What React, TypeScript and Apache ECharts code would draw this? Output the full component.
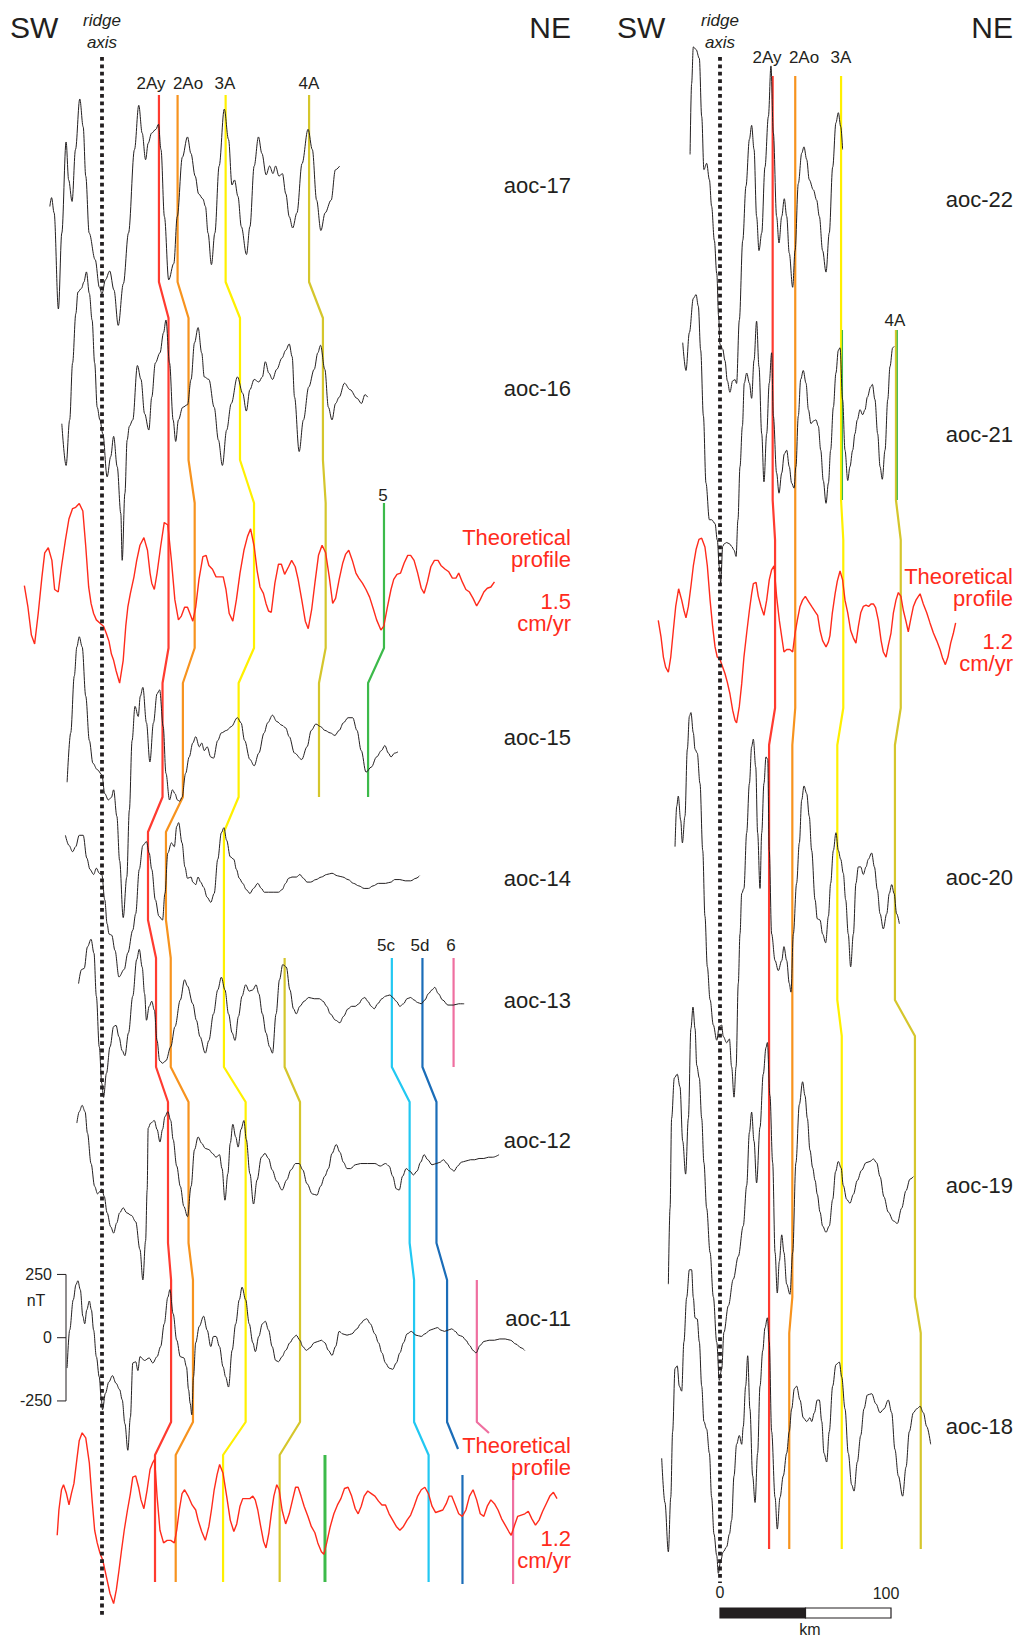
import React, { useEffect, useRef } from "react";
import * as echarts from "echarts";

// ---------- layout constants (pixels of the 1018 x 1638 page) ----------
const W = 1018;
const H = 1638;
const PX_PER_KM = 1.71;
const PX_PER_NT = 0.253;
const LEFT_RIDGE_PX = 102;
const RIGHT_RIDGE_PX = 720;
const SPLIT_PX = 600;
const LEFT_TEXT_RIGHT = 571;
const RIGHT_TEXT_RIGHT = 1013;
const INK = "#231f20";
const RED = "#ff2b1c";
const FONT = '"Liberation Sans", Arial, Helvetica, sans-serif';

// ---------- data: magnetic anomaly profiles [distance km, anomaly nT] ----------
const AOC_17 = [[-30.5,-85],[-29.5,-50],[-28,-110],[-25.5,-490],[-23.5,-190],[-21,170],[-19.5,20],[-17.5,-65],[-15.5,140],[-13,340],[-11,230],[-9.5,35],[-7.5,-190],[-4,-295],[-1.5,-405],[0,-430],[2,-375],[4.5,-340],[7,-415],[9.5,-555],[12.5,-390],[15.5,-190],[19,140],[21.5,315],[23.5,205],[25.5,100],[27,165],[29,205],[31.5,220],[33,240],[34.5,140],[36.5,-125],[39,-375],[42,-310],[44,-125],[47,110],[50,190],[52,125],[54.5,35],[56.5,-35],[59,-55],[60.5,-85],[62,-190],[64,-315],[66,-190],[68.5,75],[71.5,300],[74,180],[76,0],[77.5,20],[79.5,-45],[81.5,-165],[84.5,-275],[86.5,-165],[89,75],[91.5,190],[93.5,125],[96,40],[98,75],[100,45],[101.5,75],[103.5,35],[105.5,45],[107.5,-35],[109.5,-125],[111.5,-170],[114,-110],[117,85],[120.5,220],[123,140],[125.5,-60],[128,-180],[130.5,-110],[134,-60],[136.5,60],[139,75]];

const AOC_16 = [[-23.5,-140],[-21,-305],[-18.9,-125],[-17.2,100],[-15.3,295],[-14.1,380],[-12,395],[-10.6,420],[-9.1,460],[-7.4,375],[-5.8,270],[-4.3,100],[-2.8,-75],[-1.2,-125],[0.5,-180],[3,-350],[5.1,-270],[6.8,-190],[8.9,-310],[11,-495],[11.8,-680],[13.4,-415],[14.7,-205],[16,-150],[18,-125],[20.7,90],[22.8,35],[24.9,-100],[27.4,-165],[29.1,-35],[31.2,100],[33.9,140],[36,220],[37.4,270],[39.5,100],[41.6,-125],[43.1,-210],[44.7,-125],[47.2,-75],[50,-65],[52.1,35],[54.1,180],[56.2,240],[58.3,140],[59.8,45],[62.5,35],[65.6,-75],[68.1,-205],[70.4,-305],[72.9,-165],[75.6,-60],[79.2,45],[82.3,-20],[84.4,-90],[86.5,-5],[89,35],[91.7,25],[93.8,45],[95.5,105],[97.6,60],[99.7,35],[102.2,75],[105.3,120],[107.4,150],[109.5,175],[111.2,125],[112.6,-35],[115.3,-250],[117.8,-125],[120.9,5],[124.1,75],[126.2,140],[127.8,170],[130.3,75],[132.4,-75],[134.5,-125],[136.6,-60],[138.7,-35],[141.8,20],[145,-5],[149.2,-40],[151.7,-60],[153.8,-25],[155.4,-35]];

const THEO_15 = [[-45.4,30],[-43.3,-55],[-41.3,-165],[-39.4,-200],[-37.3,-80],[-35.2,60],[-33.5,160],[-31.4,180],[-29.3,130],[-27.7,15],[-25.6,5],[-23.7,105],[-21.4,210],[-19.3,295],[-17.2,335],[-15.4,340],[-13.3,355],[-11.2,325],[-9.5,185],[-7.8,25],[-6.4,-40],[-4.9,-80],[-3.3,-105],[-0.8,-120],[0.9,-130],[2.6,-160],[4.1,-190],[5.5,-240],[6.8,-265],[8.2,-305],[10.3,-355],[12.4,-265],[13.9,-130],[15.1,-55],[16.6,0],[18.7,65],[20.3,130],[22.2,190],[24.5,220],[26.6,170],[28.1,80],[29.1,40],[30.6,15],[32.2,80],[34.3,185],[36.4,280],[38.5,270],[40.6,130],[42.6,-25],[44.7,-105],[46.4,-90],[48.3,-55],[50,-55],[51.4,-80],[53.1,-110],[54.8,-55],[56.7,55],[59,145],[60.9,150],[62.5,110],[64.6,95],[66.7,65],[70.9,65],[72.5,15],[74.4,-80],[76.5,-110],[78.6,-25],[80.7,80],[83,170],[85.1,225],[86.9,255],[89,185],[90.7,90],[92.4,25],[94.4,0],[95.9,-40],[97.4,-70],[99,-75],[101.1,40],[103.2,115],[104.9,115],[106.8,75],[109.1,105],[110.9,130],[113,105],[114.7,55],[116.8,-25],[118.9,-110],[120.6,-140],[122.6,-65],[124.5,40],[126.6,150],[128.7,190],[130.8,160],[132.9,65],[134.9,-40],[136.6,-20],[138.7,55],[140.8,120],[142.5,155],[144.3,170],[146.4,130],[148.5,80],[150.2,60],[152.3,40],[154.4,15],[156.5,-15],[158.6,-60],[160.6,-105],[163.1,-145],[164.8,-130],[166.9,-55],[169,15],[170.6,55],[172.5,75],[174.6,80],[176.7,120],[178.8,150],[180.5,150],[182.5,130],[184.6,80],[186.7,20],[188.4,0],[190.3,45],[192.3,105],[194.4,130],[196.5,130],[198.2,110],[200.7,95],[202.8,85],[204.9,60],[207,60],[208.6,80],[210.7,45],[212.8,15],[214.9,5],[217,-20],[219.1,-50],[221.2,-25],[223.3,5],[225.3,20],[227.4,25],[229.5,45]];

const AOC_15 = [[-20.4,-180],[-18.3,15],[-16.2,240],[-14.7,355],[-13.3,395],[-11.6,355],[-9.5,160],[-7.4,-15],[-5.3,-105],[-2.8,-130],[-0.1,-150],[1.6,-225],[3.7,-250],[5.5,-240],[6.8,-210],[8.7,-315],[10.3,-490],[12.4,-715],[14.5,-555],[16,-290],[17.6,-15],[19.3,120],[21.2,80],[22.4,160],[23.9,195],[26,55],[28,-100],[30.1,55],[32.2,170],[33.7,185],[35.8,40],[37.4,-145],[39.5,-250],[41.2,-210],[42.7,-225],[44.1,-250],[45.4,-255],[46.8,-240],[48.9,-145],[51,-80],[53.1,-25],[54.8,0],[56.9,-40],[58.3,-25],[59.8,-55],[61.5,-40],[63.6,-80],[65.2,-85],[67.7,-15],[69.8,15],[72.9,25],[75.6,40],[79.2,75],[81.3,55],[83.4,-15],[86.5,-90],[89,-115],[91.7,-65],[94.8,15],[96.9,55],[99.7,85],[102.2,60],[105.3,45],[107.4,35],[109.5,0],[112.6,-65],[116.8,-90],[119.9,-40],[122.4,25],[125.1,50],[127.8,40],[130.3,25],[133.5,15],[136.2,5],[138.7,25],[141.2,55],[143.9,75],[146.6,75],[149.1,25],[151.6,-55],[154.4,-140],[157.5,-120],[160.6,-80],[163.4,-55],[165.4,-35],[167.5,-65],[169,-80],[171.1,-65],[173.1,-60]];

const AOC_14 = [[-21.4,170],[-19.3,130],[-17.2,105],[-15.4,125],[-13.3,170],[-11,170],[-8.9,80],[-7,35],[-4.9,15],[-3.3,40],[-1.6,20],[-0.1,15],[1.6,-85],[3,-180],[4.1,-220],[5.7,-225],[7.6,-285],[9.9,-390],[13,-360],[15.1,-295],[18,-205],[19.7,-140],[21.8,35],[23.9,130],[26,145],[27.6,100],[29.1,35],[31.2,-85],[33.3,-150],[35.4,-165],[36.8,-60],[38.5,100],[40.6,140],[42.3,125],[43.7,205],[44.8,220],[46.8,140],[48.5,45],[50,0],[52.1,5],[53.1,-15],[54.8,-25],[56.2,5],[57.7,-15],[59.4,-35],[61.5,-75],[63.6,-95],[65.6,-60],[67.7,75],[69.8,180],[71.3,200],[72.9,150],[75,85],[77.1,75],[78.6,35],[80.3,0],[82.3,-20],[84.4,-45],[86.5,-60],[88.6,-40],[91.1,-20],[93.2,-40],[94.9,-55],[97.4,-55],[100.1,-55],[103.2,-55],[105.3,-45],[107.4,-20],[109.1,0],[111.1,5],[113.7,5],[115.7,15],[117.8,0],[119.9,-15],[122,-15],[125.1,-5],[128.3,5],[131.4,15],[134.5,20],[137.7,10],[140.8,5],[143.9,-5],[147.1,-20],[150.2,-30],[153.3,-40],[155.8,-40],[158.5,-30],[161.7,-20],[165.8,-20],[169,-15],[171.1,-5],[174.2,-5],[177.3,-10],[180.5,-10],[183.6,0],[185.7,10]];

const AOC_13 = [[-13.7,65],[-12,120],[-10.4,125],[-8.5,210],[-6.4,240],[-4.7,185],[-3.3,15],[-1.6,-185],[-0.1,-330],[0.9,-385],[2.6,-290],[4.7,-185],[6.8,-105],[8.2,-100],[9.9,-145],[11.8,-200],[13.4,-220],[15.5,-130],[18,15],[20.3,160],[21.8,200],[23.5,130],[24.9,25],[26,-80],[27.6,-25],[29.1,-5],[30.6,-40],[32.2,-160],[33.7,-240],[35.4,-250],[37.4,-240],[40.2,-185],[42.7,-105],[45.8,0],[48.3,80],[50,55],[53.1,-15],[55.2,-80],[57.3,-145],[60.4,-210],[62.5,-160],[65.2,-55],[67.7,40],[69.8,90],[71.9,40],[74,-55],[76.1,-130],[77.8,-160],[79.8,-65],[81.9,15],[84,60],[86.1,35],[88.2,40],[90.1,60],[91.7,25],[93.8,-55],[95.9,-130],[98,-185],[99.7,-210],[101.8,-55],[103.8,80],[105.7,140],[107.8,130],[109.9,40],[112,-35],[113.6,-55],[115.7,-25],[118.2,-5],[120.9,10],[124.1,5],[127.2,5],[129.3,-5],[131.4,-25],[133.5,-55],[136.6,-80],[139.1,-90],[141.2,-65],[143.9,-35],[146,-25],[148.1,-25],[150.2,-15],[152.3,5],[153.7,10],[155.4,-5],[157.5,-25],[159.2,-35],[161.2,-15],[163.7,5],[165.8,15],[168.4,20],[170,10],[172.1,-5],[174.2,-25],[176.3,-15],[178.4,5],[180.5,10],[182.5,0],[184.6,-10],[186.7,-15],[188.8,0],[190.9,25],[193,40],[194.6,50],[196.7,25],[199.2,0],[202.3,-20],[205.5,-20],[208.6,-15],[211.8,-15]];

const AOC_12 = [[-14.7,80],[-13.3,125],[-11.6,150],[-9.9,125],[-8.5,40],[-6.4,-80],[-4.3,-170],[-2.6,-200],[-1.2,-190],[-0.1,-180],[1.3,-210],[3,-275],[5.1,-330],[6.8,-355],[8.6,-315],[10.3,-275],[12.4,-255],[14.5,-275],[17.2,-285],[19.7,-310],[22.2,-420],[23.9,-540],[25.5,-385],[26.4,-185],[27,60],[28.5,80],[30.6,90],[32.2,55],[33.9,5],[35.4,55],[36.8,105],[38.5,125],[40.2,90],[41.6,15],[43.7,-90],[45.8,-170],[47.9,-250],[50,-290],[52.1,-170],[54.1,-25],[56.2,25],[58.3,0],[60.4,-20],[62.5,-25],[64.6,-40],[66.7,-55],[68.7,-45],[70.2,-100],[71.9,-225],[73.6,-120],[75,0],[76.5,75],[78.2,25],[79.6,-15],[81.3,55],[83,90],[84.4,15],[86.5,-120],[88.6,-240],[90.7,-145],[93.2,-55],[95.3,-40],[97.4,-60],[99.5,-105],[102.2,-150],[105.3,-185],[108,-145],[110.5,-105],[113.2,-80],[115.3,-80],[117.4,-105],[119.9,-160],[123,-200],[125.7,-205],[127.8,-170],[130.3,-130],[132.4,-100],[134.5,-40],[137,-5],[139.1,-35],[141.2,-75],[143.3,-100],[145.4,-100],[148.1,-85],[151.2,-80],[155.4,-80],[159.6,-80],[162.7,-90],[165.8,-80],[167.9,-90],[170,-130],[172.1,-180],[173.8,-185],[175.8,-130],[177.9,-100],[180,-110],[182.1,-125],[184.2,-110],[186.3,-75],[188.4,-45],[190.5,-65],[193,-85],[195.5,-80],[197.6,-75],[199.7,-65],[201.8,-80],[203.8,-100],[205.9,-110],[208,-90],[210.1,-75],[212.8,-70],[215.5,-65],[218,-65],[220.5,-60],[223.3,-60],[226,-55],[228.5,-55],[232.2,-45]];

const AOC_11 = [[-20.4,-120],[-18.9,30],[-16.8,150],[-15.2,210],[-14.1,225],[-12.7,190],[-11.2,85],[-10.1,55],[-8.9,110],[-7.4,145],[-6.2,110],[-4.9,30],[-3.3,-75],[-1.6,-155],[-0.5,-235],[0.3,-285],[2,-220],[4,-175],[6.1,-150],[8.2,-180],[10.3,-205],[11.8,-245],[13.4,-340],[15.1,-445],[16.6,-315],[18,-100],[19.7,-95],[21,-130],[22.2,-75],[24.9,-90],[27.6,-80],[29.7,-100],[32.2,-75],[34.3,-35],[36.4,55],[38.5,160],[39.7,190],[41.6,95],[43.7,-10],[45.8,-75],[47.9,-80],[49.4,-115],[50.6,-205],[51.6,-260],[52.5,-305],[53.5,-155],[54.8,-20],[56.9,45],[59.4,85],[61.5,30],[63.6,-35],[65.2,5],[66.7,5],[68.7,-35],[70.8,-115],[72.3,-155],[74,-195],[76.1,-50],[78.2,55],[80.3,150],[81.9,200],[84,150],[86.1,55],[88.2,-20],[89.7,-55],[91.7,5],[93.8,55],[95.5,65],[97.4,30],[99.5,-35],[101.6,-90],[103.2,-95],[105.3,-75],[107.4,-50],[109.9,-20],[112,0],[113.6,10],[115.7,-10],[117.4,-35],[119.5,-50],[121.6,-40],[124.1,-20],[126.2,-15],[128.3,-10],[130.3,-20],[132.4,-50],[134.5,-70],[136.6,-35],[138.7,25],[140.8,15],[143.3,10],[146,15],[149.1,35],[151.2,55],[153.3,70],[154.8,75],[156.9,55],[159.6,15],[161.7,-20],[163.7,-60],[165.8,-100],[167.9,-120],[170,-125],[172.1,-100],[174.2,-60],[176.3,-20],[178.4,15],[180.9,25],[183.6,10],[186.7,5],[188.8,15],[191.9,30],[194,35],[196.1,40],[198.2,30],[200.3,25],[202.4,30],[204.5,35],[206.6,25],[208.6,10],[210.7,5],[212.8,-10],[214.9,-30],[217,-50],[218.7,-60],[221.2,-30],[223.3,-15],[226.4,-10],[229.5,-10],[232.6,-5],[235.8,-5],[238.9,-10],[242,-25],[245.1,-40],[247.2,-50]];

const THEO_12_LEFT = [[-26.2,-100],[-25.2,0],[-23.7,80],[-22.5,100],[-20.8,65],[-19.3,20],[-17.9,65],[-16.4,105],[-14.7,200],[-13.3,275],[-11.6,305],[-9.5,285],[-7.4,185],[-5.8,40],[-4.3,-80],[-2.8,-130],[-1.2,-170],[0.5,-200],[2.6,-265],[4.7,-330],[6.8,-370],[8.4,-315],[9.9,-240],[11.4,-160],[13,-80],[14.9,0],[16.6,65],[18,130],[19.7,135],[21.4,90],[22.8,40],[24.5,5],[26.4,80],[28.1,160],[29.5,185],[30.8,200],[32.2,55],[33.9,-80],[36,-130],[38.1,-120],[40.2,-120],[42.3,-130],[43.7,-80],[45.2,0],[46.8,65],[48.3,80],[50.4,55],[52.7,20],[54.8,0],[56.2,-40],[58.3,-85],[60.4,-120],[62.5,-65],[64,0],[65.6,80],[67.3,140],[68.8,180],[70.8,145],[72.9,55],[75,-40],[77.1,-85],[78.8,-55],[80.7,15],[82.3,45],[84.4,45],[86.5,45],[88.2,55],[89.6,40],[91.1,0],[92.8,-65],[94.5,-125],[95.9,-150],[97.6,-90],[99,-15],[100.5,55],[102.2,100],[103.6,80],[105.3,0],[107.4,-55],[109.5,-15],[111.6,45],[113.2,90],[114.7,90],[116.4,55],[118.2,15],[120.4,-25],[122.4,-65],[124.5,-90],[126.2,-130],[128.3,-165],[129.7,-175],[131.4,-130],[133.5,-65],[135.6,-15],[137.7,20],[139.7,45],[141.8,85],[143.9,90],[146,55],[148.1,5],[149.8,-15],[151.6,15],[153.3,55],[155.4,75],[157.5,65],[159.6,55],[161.7,35],[163.7,20],[165.8,20],[167.9,-15],[170,-40],[172.1,-65],[174.2,-80],[176.3,-65],[178.4,-40],[180.5,-20],[182.5,15],[184.6,55],[186.7,80],[188.8,90],[190.9,65],[193,15],[195.1,-10],[197.2,-5],[199.3,0],[201.3,25],[203,55],[204.5,55],[206.6,20],[208.6,-15],[210.7,-25],[212.8,0],[214.9,55],[217,80],[219.1,40],[221.2,-15],[223.3,-25],[225.3,15],[227.4,40],[229.5,25],[231.6,0],[233.7,-35],[235.8,-60],[237.9,-85],[239.3,-100],[241,-65],[243.1,-25],[245.2,-20],[247.3,-15],[249.3,-5],[251.4,-35],[253.5,-60],[255.6,-40],[257.7,-5],[259.8,25],[261.9,55],[264,70],[266.1,45]];

const AOC_22 = [[-17.5,180],[-16.6,460],[-15.6,605],[-14,595],[-12.1,560],[-10.7,330],[-9.4,120],[-7.8,145],[-6.2,80],[-4.9,-25],[-3.3,-160],[-1.9,-290],[-0.8,-460],[0,-570],[1.6,-590],[2.9,-635],[4.3,-715],[5.8,-760],[7.4,-715],[8.8,-710],[9.7,-725],[11.3,-475],[13.3,-160],[15.2,55],[17.2,240],[18.5,295],[19.9,200],[21.4,-65],[22.8,-200],[24.4,-130],[26.3,130],[28.3,330],[29.8,530],[31.2,265],[33.1,-65],[34.5,-170],[36.1,-65],[37.6,5],[39,-65],[40.5,-210],[42.5,-345],[43.9,-200],[45.8,65],[47.8,185],[49.1,210],[50.7,160],[52.2,80],[54.6,40],[56.5,0],[58.1,-65],[60,-200],[62,-285],[63.9,-130],[65.9,130],[67.8,305],[69.2,345],[70.6,290],[71.7,200]];

const AOC_21 = [[-21.8,365],[-19.9,255],[-17.9,405],[-15.6,540],[-14,555],[-12.7,510],[-11.3,335],[-9.7,75],[-8.2,-190],[-6.2,-335],[-4.9,-335],[-2.9,-350],[-1.6,-415],[-0.4,-520],[0.4,-585],[1.6,-440],[2.5,-430],[3.9,-425],[5.5,-430],[6.8,-440],[8.2,-455],[9.4,-480],[10.5,-335],[11.7,-125],[13.1,35],[14.2,205],[15.6,245],[17.2,205],[18.5,145],[19.9,295],[21.4,450],[22.8,270],[24.4,5],[25.7,-185],[27.3,5],[28.8,205],[30.2,325],[31.2,75],[33.1,-150],[34.5,-230],[36.1,-150],[37.6,-75],[39,-60],[40.5,-125],[41.9,-190],[43.3,-210],[44.4,-125],[45.8,75],[47.2,220],[48.7,255],[50.3,205],[51.7,100],[53.2,45],[54.6,55],[56.1,60],[57.5,35],[58.9,-60],[60.4,-180],[62,-270],[63.4,-190],[64.7,-60],[66.3,110],[67.8,245],[69.2,335],[70.2,345],[71.7,140],[73.1,-60],[74.7,-180],[76,-125],[77.6,-60],[78.9,5],[80.3,60],[81.9,100],[83.4,80],[84.8,100],[86.2,150],[88.1,190],[89.1,200],[90.6,140],[92.2,5],[93.6,-125],[94.9,-175],[96.5,-60],[98.1,140],[99.4,270],[101,345],[101.9,350]];

const THEO_12_RIGHT = [[-36.1,25],[-34.5,-40],[-33.1,-120],[-31.8,-160],[-30.2,-180],[-28.8,-120],[-27.3,-15],[-25.9,80],[-24.2,150],[-22.4,105],[-21.1,65],[-19.9,35],[-18.5,80],[-17,160],[-15.6,240],[-14,305],[-12.3,345],[-10.7,350],[-8.8,315],[-7.4,240],[-5.8,105],[-4.3,0],[-2.9,-80],[-1.6,-120],[0,-130],[1.6,-160],[2.9,-185],[4.3,-220],[5.8,-265],[7.4,-330],[8.8,-370],[9.7,-380],[11.3,-315],[12.7,-225],[14,-120],[15.6,-25],[17.2,65],[18.5,130],[19.5,170],[21.1,175],[22.4,120],[24,80],[25.7,45],[27.3,105],[28.8,185],[30.2,225],[31.6,240],[33.1,120],[34.7,25],[36.1,-40],[37.4,-100],[39,-90],[40.9,-90],[42.5,-100],[43.9,-25],[45.2,25],[46.8,80],[48.3,105],[49.9,120],[51.7,100],[53.6,80],[55.6,60],[57.1,45],[58.5,-15],[60,-55],[62,-80],[63.4,-60],[64.3,-35],[65.7,55],[67.3,130],[68.6,180],[70.2,220],[71.7,185],[73.1,105],[74.7,55],[76.4,-15],[78,-45],[79.5,-65],[80.9,0],[82.3,55],[83.8,80],[85.4,85],[86.9,80],[88.3,90],[89.7,90],[91,75],[92.6,25],[94.2,-55],[95.5,-100],[97.1,-120],[98.4,-75],[100,-25],[101.4,55],[102.9,105],[104.3,135],[105.8,120],[107.2,65],[108.8,20],[110.1,-20],[111.7,35],[113.1,80],[114.6,105],[116,120],[117,130],[118.9,90],[120.9,55],[122.8,15],[124.8,-25],[126.7,-55],[128.7,-90],[130.2,-125],[131.8,-150],[133.3,-120],[134.9,-65],[136.5,-25],[137.8,15]];

const AOC_20 = [[-26.3,125],[-25.3,285],[-24.4,325],[-23,230],[-22,140],[-20.5,245],[-19.1,510],[-17.9,640],[-17,655],[-15.6,575],[-14.6,510],[-13.3,495],[-11.7,375],[-10.1,110],[-8.8,-150],[-7.4,-350],[-5.8,-480],[-3.9,-580],[-1.9,-640],[-0.4,-585],[1,-580],[1.9,-625],[3.9,-650],[5.5,-635],[6.8,-745],[8.2,-865],[9.4,-745],[10.7,-415],[11.7,-220],[12.7,-60],[14,-40],[15.6,180],[17.2,375],[18.5,520],[19.5,550],[20.9,440],[22,180],[23.4,-40],[24.4,180],[25.7,375],[26.9,480],[27.9,470],[28.8,110],[30.2,-220],[32.2,-325],[34.1,-365],[36.1,-325],[37.4,-270],[39,-325],[40.5,-415],[41.5,-450],[42.9,-220],[44.8,-20],[46.4,140],[47.8,310],[49.1,365],[50.7,335],[52.2,245],[53.6,110],[55.6,-85],[56.9,-160],[58.5,-165],[60,-220],[61.8,-255],[63.4,-150],[64.7,-20],[66.3,110],[67.8,180],[69.2,110],[70.6,75],[72.1,20],[73.5,-85],[75,-220],[76.4,-350],[78,-220],[79.5,-20],[80.9,45],[82.3,45],[83.8,15],[85.4,45],[86.7,75],[88.7,100],[90.3,45],[92,-45],[93.6,-140],[95.5,-200],[97.5,-140],[99,-60],[100.4,-25],[101.8,-60],[103.3,-140],[104.9,-180]];

const AOC_19 = [[-30.2,-390],[-29.2,-90],[-28.3,265],[-26.7,425],[-25,440],[-23.4,390],[-21.8,175],[-20.1,45],[-18.5,265],[-17,620],[-15.8,705],[-14.6,620],[-13.6,475],[-12.1,425],[-10.7,265],[-9.4,90],[-7.8,-90],[-5.8,-265],[-3.9,-440],[-1.9,-620],[-0.4,-770],[1,-725],[2.3,-580],[4.9,-475],[7.8,-370],[10.7,-280],[13.6,-160],[15.6,0],[17.2,210],[18.5,290],[19.9,175],[21.4,10],[23.4,230],[25.3,440],[26.9,545],[27.7,565],[29.2,355],[30.8,90],[32.2,-265],[33.5,-425],[34.7,-300],[36.1,-195],[37.4,-265],[39,-390],[40.9,-430],[42.5,-265],[44.4,90],[46.4,320],[48.3,410],[49.7,355],[51.1,265],[52.6,140],[54.2,70],[55.6,20],[56.9,-35],[58.5,-105],[60,-160],[62,-185],[63.9,-160],[65.9,-55],[67.6,55],[69.2,95],[70.8,70],[72.1,0],[74.1,-55],[76,-70],[78,-35],[80.3,20],[82.8,60],[85.4,90],[87.7,95],[89.7,105],[91.6,90],[93.6,35],[95.9,-45],[98.4,-105],[101.4,-140],[103.7,-150],[106.2,-90],[108.8,-20],[111.1,25],[113.1,35]];

const AOC_18 = [[-34.1,-125],[-32.2,-300],[-30.2,-495],[-28.8,-280],[-27.7,-20],[-26.3,230],[-25,240],[-23.8,160],[-22.4,140],[-21.1,335],[-19.5,510],[-17.9,620],[-16.6,620],[-15.6,510],[-14.6,430],[-13.3,425],[-12.1,335],[-10.7,160],[-9.4,20],[-7.8,-10],[-6.2,-105],[-4.9,-280],[-3.5,-425],[-1.9,-510],[-1,-580],[0.4,-530],[1.9,-495],[3.9,-475],[5.5,-425],[6.8,-370],[8.2,-195],[9.7,-70],[11.3,-35],[12.7,-70],[13.6,0],[15,160],[16.2,280],[17.5,70],[19.1,-195],[20.5,-300],[22,-105],[23.4,160],[25,300],[26.3,390],[27.7,430],[28.8,335],[30.2,-20],[32.2,-280],[33.5,-405],[35.1,-280],[37,-195],[39,-105],[40.5,-20],[41.9,70],[43.5,150],[44.8,160],[46.8,105],[48.7,35],[50.7,20],[52.6,35],[53.6,20],[55.2,55],[56.9,105],[58.1,105],[59.5,20],[60.8,-105],[62.4,-140],[63.9,-20],[65.9,160],[67.8,245],[69.8,255],[71.2,195],[73.1,70],[75,-105],[77,-230],[78.4,-255],[80.3,-140],[82.3,-35],[84.2,70],[86.2,125],[88.7,130],[91.2,90],[93.6,55],[95.9,70],[98.4,105],[100.4,55],[102.3,-90],[104.3,-195],[106.8,-275],[108.8,-160],[110.7,-20],[113.1,55],[115,70],[117,80],[118.9,55],[120.9,0],[123.2,-70]];

// isochron picks (km from ridge axis) on each profile band
const ISO_LEFT = [
  { label: "2Ay", color: "#ff3b30", pieces: [[["b17",33.3],["b16",38.9],["t15",38.9],["b15",35.4],["b14",26.9],["b13",31.6],["b12",38.6],["b11",40.4],["t12",31.0]]] },
  { label: "2Ao", color: "#f7931e", pieces: [[["b17",44.2],["b16",50.6],["t15",54.2],["b15",47.3],["b14",37.4],["b13",40.2],["b12",50.6],["b11",53.2],["t12",43.1]]] },
  { label: "3A", color: "#fff000", pieces: [[["b17",72.3],["b16",80.7],["t15",88.9],["b15",79.9],["b14",71.3],["b13",71.3],["b12",84.0],["b11",84.0],["t12",70.8]]] },
  { label: "4A", color: "#d5c62c", pieces: [[["b17",121.1],["b16",129.2],["t15",130.8],["b15",126.9]],[["b13",106.8],["b12",115.8],["b11",115.8],["t12",103.9]]] },
  { label: "5", color: "#3cba4a", pieces: [[["t15",164.9],["b15",155.6]]] },
  { label: "5", color: "#3cba4a", width: 3, pieces: [[["t12",130.4]]] },
  { label: "5c", color: "#22c8f2", pieces: [[["b13",169.5],["b12",179.9],["b11",182.5],["t12",191.0]]] },
  { label: "5d", color: "#1b6db8", pieces: [[["b13",187.4],["b12",195.6],["b11",201.8],["cut5d",208.2]],[["t12b",210.8]]] },
  { label: "6", color: "#ef6fa0", pieces: [[["b13",205.6]],[["b11",219.2],["cut6",226.3]],[["t12c",240.4]]] },
];

const ISO_RIGHT = [
  { label: "2Ay", color: "#ff3b30", pieces: [[["r22",30.8],["r21",30.8],["rt",32.2],["r20",28.7],["r19",28.7],["r18",28.7]]] },
  { label: "2Ao", color: "#f7931e", pieces: [[["r22",44.0],["r21",44.0],["rt",44.0],["r20",42.3],["r19",42.3],["r18",40.5]]] },
  { label: "3A", color: "#fff000", pieces: [[["r22",70.8],["r21",70.8],["rt",72.1],["r20",68.6],["r19",71.2],["r18",71.2]]] },
  { label: "4A", color: "#d5c62c", pieces: [[["r21",102.9],["rt",105.7],["r20",102.3],["r19",114.0],["r18",117.4]]] },
  { label: "5", color: "#3cba4a", width: 1.2, pieces: [[["r21",71.6]],[["r21",103.7]]] },
];

const NT_TICKS = [250, 0, -250];
const KM_BAR = [[0, 50, 1], [50, 100, 0]];

// ---------- layout: vertical bands (px) ----------
const BANDS_LEFT = {
  b17: [95, 282], b16: [318, 460], t15: [503, 648], b15: [683, 797], b14: [832, 920],
  b13: [958, 1067], b12: [1102, 1243], b11: [1280, 1422], t12: [1455, 1582],
  cut5d: [1449, 1449], cut6: [1433, 1433], t12b: [1475, 1584], t12c: [1476, 1584],
};
const BANDS_RIGHT = {
  r22: [76, 330], r21: [330, 500], rt: [540, 708], r20: [745, 1000], r19: [1036, 1297], r18: [1333, 1549],
};

const PROFILES_LEFT = [
  { name: "aoc-17", data: AOC_17, basePx: 185, theo: false },
  { name: "aoc-16", data: AOC_16, basePx: 388.3, theo: false },
  { name: "theo-1.5", data: THEO_15, basePx: 593.3, theo: true },
  { name: "aoc-15", data: AOC_15, basePx: 736.7, theo: false },
  { name: "aoc-14", data: AOC_14, basePx: 878.3, theo: false },
  { name: "aoc-13", data: AOC_13, basePx: 1000, theo: false },
  { name: "aoc-12", data: AOC_12, basePx: 1143.3, theo: false },
  { name: "aoc-11", data: AOC_11, basePx: 1337.7, theo: false },
  { name: "theo-1.2", data: THEO_12_LEFT, basePx: 1510, theo: true },
];
const PROFILES_RIGHT = [
  { name: "aoc-22", data: AOC_22, basePx: 200, theo: false },
  { name: "aoc-21", data: AOC_21, basePx: 435, theo: false },
  { name: "theo-1.2r", data: THEO_12_RIGHT, basePx: 626.7, theo: true },
  { name: "aoc-20", data: AOC_20, basePx: 878.3, theo: false },
  { name: "aoc-19", data: AOC_19, basePx: 1185.5, theo: false },
  { name: "aoc-18", data: AOC_18, basePx: 1426.6, theo: false },
];

const toV = (px: number) => px / PX_PER_NT;
const kmL = (px: number) => (px - LEFT_RIDGE_PX) / PX_PER_KM;

function profileSeries(p: any, axis: number) {
  const base = toV(p.basePx);
  return {
    type: "line",
    xAxisIndex: axis,
    yAxisIndex: axis,
    data: p.data.map((d: number[]) => [d[0], base - d[1]]),
    symbol: "none",
    showSymbol: false,
    smooth: p.theo ? false : 0.35,
    smoothMonotone: "x",
    lineStyle: { color: p.theo ? RED : INK, width: p.theo ? 1.4 : 1 },
    silent: true,
    z: 3,
  };
}

function isoSeries(iso: any, bands: any, axis: number) {
  return iso.pieces.map((piece: any[]) => ({
    type: "line",
    xAxisIndex: axis,
    yAxisIndex: axis,
    data: piece.flatMap((e: any[]) => [[e[1], toV(bands[e[0]][0])], [e[1], toV(bands[e[0]][1])]]),
    symbol: "none",
    showSymbol: false,
    lineStyle: { color: iso.color, width: iso.width || 2.2 },
    silent: true,
    z: 2,
  }));
}

function txt(text: string, x: number, y: number, size: number, opts: any = {}) {
  const font = `${opts.italic ? "italic " : ""}${size}px ${FONT}`;
  const align = opts.align || "center";
  return {
    type: "text",
    x,
    y,
    z: 10,
    silent: true,
    style: {
      text,
      fill: opts.color || INK,
      font,
      align,
      textAlign: align,
      verticalAlign: "middle",
      textVerticalAlign: "middle",
    },
  };
}

export default function App() {
  const ref = useRef<HTMLDivElement>(null);

  useEffect(() => {
    document.body.style.margin = "0";
    const chart = echarts.init(ref.current as HTMLDivElement, null, { renderer: "svg" });

    const series: any[] = [];
    ISO_LEFT.forEach((iso) => series.push(...isoSeries(iso, BANDS_LEFT, 0)));
    ISO_RIGHT.forEach((iso) => series.push(...isoSeries(iso, BANDS_RIGHT, 1)));
    PROFILES_LEFT.forEach((p) => series.push(profileSeries(p, 0)));
    PROFILES_RIGHT.forEach((p) => series.push(profileSeries(p, 1)));

    // ridge axes (dotted)
    const dotted = { type: [3.8, 3.6], width: 3.8, color: INK, cap: "butt" };
    series.push({ type: "line", xAxisIndex: 0, yAxisIndex: 0, data: [[0, toV(57)], [0, toV(1615)]], symbol: "none", lineStyle: dotted, silent: true, z: 4 });
    series.push({ type: "line", xAxisIndex: 1, yAxisIndex: 1, data: [[0, toV(57)], [0, toV(1583)]], symbol: "none", lineStyle: dotted, silent: true, z: 4 });

    // nT scale bar (aoc-11 zero level)
    const base11 = toV(1337.7);
    const barKm = kmL(66);
    const tickKm = kmL(57);
    series.push({ type: "line", xAxisIndex: 0, yAxisIndex: 0, data: [[barKm, base11 - NT_TICKS[0]], [barKm, base11 - NT_TICKS[NT_TICKS.length - 1]]], symbol: "none", lineStyle: { color: INK, width: 1 }, silent: true, z: 4 });
    NT_TICKS.forEach((t) => {
      series.push({ type: "line", xAxisIndex: 0, yAxisIndex: 0, data: [[tickKm, base11 - t], [barKm, base11 - t]], symbol: "none", lineStyle: { color: INK, width: 1 }, silent: true, z: 4 });
    });

    // km scale bar
    series.push({
      type: "custom",
      xAxisIndex: 1,
      yAxisIndex: 1,
      silent: true,
      z: 5,
      data: KM_BAR,
      renderItem: (params: any, api: any) => {
        const p0 = api.coord([api.value(0), toV(1608)]);
        const p1 = api.coord([api.value(1), toV(1618)]);
        return {
          type: "rect",
          shape: { x: p0[0], y: p0[1], width: p1[0] - p0[0], height: p1[1] - p0[1] },
          style: { fill: api.value(2) === 1 ? INK : "#ffffff", stroke: INK, lineWidth: 1.2 },
        };
      },
    });

    const L = LEFT_TEXT_RIGHT;
    const R = RIGHT_TEXT_RIGHT;
    const graphic: any[] = [
      txt("SW", 10, 27, 30, { align: "left" }),
      txt("ridge", 102, 20, 17, { italic: true }),
      txt("axis", 102, 42, 17, { italic: true }),
      txt("NE", L, 27, 30, { align: "right" }),
      txt("SW", 617, 27, 30, { align: "left" }),
      txt("ridge", 720, 20, 17, { italic: true }),
      txt("axis", 720, 42, 17, { italic: true }),
      txt("NE", R, 27, 30, { align: "right" }),
      txt("2Ay", 151, 83, 17),
      txt("2Ao", 188, 83, 17),
      txt("3A", 225, 83, 17),
      txt("4A", 309, 83, 17),
      txt("5", 383, 495, 17),
      txt("5c", 386, 945, 17),
      txt("5d", 420, 945, 17),
      txt("6", 451, 945, 17),
      txt("2Ay", 767, 57, 17),
      txt("2Ao", 804, 57, 17),
      txt("3A", 841, 57, 17),
      txt("4A", 895, 320, 17),
      txt("aoc-17", L, 185, 22, { align: "right" }),
      txt("aoc-16", L, 388, 22, { align: "right" }),
      txt("aoc-15", L, 737, 22, { align: "right" }),
      txt("aoc-14", L, 878, 22, { align: "right" }),
      txt("aoc-13", L, 1000, 22, { align: "right" }),
      txt("aoc-12", L, 1140, 22, { align: "right" }),
      txt("aoc-11", L, 1318, 22, { align: "right" }),
      txt("aoc-22", R, 199, 22, { align: "right" }),
      txt("aoc-21", R, 434, 22, { align: "right" }),
      txt("aoc-20", R, 877, 22, { align: "right" }),
      txt("aoc-19", R, 1185, 22, { align: "right" }),
      txt("aoc-18", R, 1426, 22, { align: "right" }),
      txt("Theoretical", L, 537, 22, { align: "right", color: RED }),
      txt("profile", L, 559, 22, { align: "right", color: RED }),
      txt("1.5", L, 601, 22, { align: "right", color: RED }),
      txt("cm/yr", L, 623, 22, { align: "right", color: RED }),
      txt("Theoretical", L, 1445, 22, { align: "right", color: RED }),
      txt("profile", L, 1467, 22, { align: "right", color: RED }),
      txt("1.2", L, 1538, 22, { align: "right", color: RED }),
      txt("cm/yr", L, 1560, 22, { align: "right", color: RED }),
      txt("Theoretical", R, 576, 22, { align: "right", color: RED }),
      txt("profile", R, 598, 22, { align: "right", color: RED }),
      txt("1.2", R, 641, 22, { align: "right", color: RED }),
      txt("cm/yr", R, 663, 22, { align: "right", color: RED }),
      txt("nT", 36, 1300, 16),
      txt("0", 720, 1592, 16),
      txt("100", 886, 1593, 16),
      txt("km", 810, 1629, 16),
    ];
    NT_TICKS.forEach((t) => {
      graphic.push(txt(String(t), 52, 1337.7 - t * PX_PER_NT, 16, { align: "right" }));
    });

    chart.setOption({
      animation: false,
      backgroundColor: "#ffffff",
      grid: [
        { left: 0, top: 0, width: SPLIT_PX, height: H },
        { left: SPLIT_PX, top: 0, width: W - SPLIT_PX, height: H },
      ],
      xAxis: [
        { gridIndex: 0, type: "value", min: -LEFT_RIDGE_PX / PX_PER_KM, max: (SPLIT_PX - LEFT_RIDGE_PX) / PX_PER_KM, show: false },
        { gridIndex: 1, type: "value", min: (SPLIT_PX - RIGHT_RIDGE_PX) / PX_PER_KM, max: (W - RIGHT_RIDGE_PX) / PX_PER_KM, show: false },
      ],
      yAxis: [
        { gridIndex: 0, type: "value", min: 0, max: toV(H), inverse: true, show: false },
        { gridIndex: 1, type: "value", min: 0, max: toV(H), inverse: true, show: false },
      ],
      series,
      graphic,
    });

    return () => chart.dispose();
  }, []);

  return <div ref={ref} style={{ width: W, height: H }} />;
}
